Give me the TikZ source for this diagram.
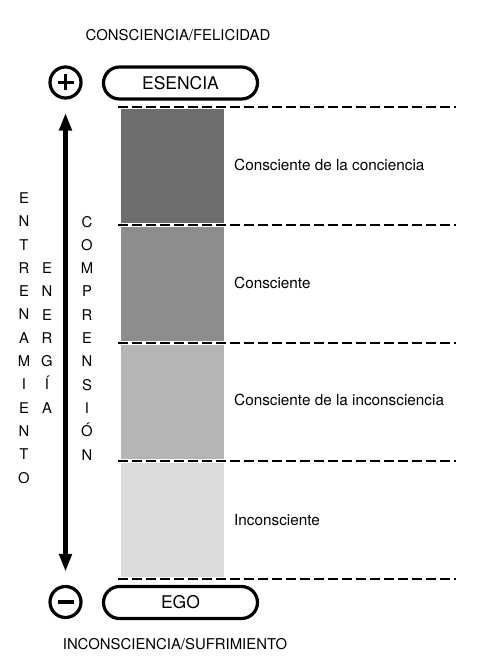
\documentclass[tikz,border=0pt]{standalone}
\usepackage{fontspec}
\setmainfont{TeX Gyre Heros}
\usetikzlibrary{arrows.meta}
\definecolor{bandA}{HTML}{6E6E6E}
\definecolor{bandB}{HTML}{8D8D8D}
\definecolor{bandC}{HTML}{B5B5B5}
\definecolor{bandD}{HTML}{DBDBDB}
\tikzset{
  signcirc/.style={circle, draw, line width=3.2pt, minimum size=31pt, inner sep=0pt},
  signbar/.style={line width=3.2pt},
  pillbox/.style={draw, line width=3.2pt, rounded corners=16pt, minimum width=154pt, minimum height=32pt, inner sep=0pt, font=\fontsize{17.5}{20}\selectfont},
  band/.style={draw=none, minimum width=103pt, minimum height=114pt, inner sep=0pt},
  sep/.style={line width=1.1pt, dash pattern=on 10pt off 4pt},
  lbl/.style={anchor=west, inner sep=0pt, font=\fontsize{15.3}{18}\selectfont},
  titletext/.style={inner sep=0pt, font=\fontsize{14.9}{17}\selectfont},
  vword/.style={align=center, inner sep=0pt, font=\fontsize{14.8}{23.3}\selectfont},
}
\begin{document}
\begin{tikzpicture}[x=1pt,y=-1pt]
\useasboundingbox (0,0) rectangle (483,671);
% titles
\node[titletext] (top) at (178,35) {CONSCIENCIA/FELICIDAD};
\node[titletext] (bot) at (175,644) {INCONSCIENCIA/SUFRIMIENTO};
% sign circles
\node[signcirc] (plus) at (65.5,82.5) {};
\draw[signbar] ([xshift=-8pt]plus.center) -- ([xshift=8pt]plus.center);
\draw[signbar] ([yshift=-8pt]plus.center) -- ([yshift=8pt]plus.center);
\node[signcirc] (minus) at (65.5,602) {};
\draw[signbar] ([xshift=-8pt]minus.center) -- ([xshift=8pt]minus.center);
% pill boxes
\node[pillbox] (esencia) at (180.5,83) {ESENCIA};
\node[pillbox] (ego) at (180.5,602.5) {EGO};
% arrow
\draw[line width=4.5pt, {Triangle[length=18pt,width=12pt]}-{Triangle[length=18pt,width=12pt]}]
  ([yshift=-13pt]plus.south) -- ([yshift=13pt]minus.north);
% bands
\node[band, fill=bandA] (b1) at (172.5,166) {};
\node[band, fill=bandB] (b2) at (172.5,284) {};
\node[band, fill=bandC] (b3) at (172.5,402) {};
\node[band, fill=bandD] (b4) at (172.5,520) {};
% dashed separators
\coordinate (s1a) at (118,107); \coordinate (s1b) at (456,107);
\coordinate (s2a) at (118,225); \coordinate (s2b) at (456,225);
\coordinate (s3a) at (118,343); \coordinate (s3b) at (456,343);
\coordinate (s4a) at (118,461); \coordinate (s4b) at (456,461);
\coordinate (s5a) at (118,579); \coordinate (s5b) at (456,579);
\draw[sep] (s1a) -- (s1b);
\draw[sep] (s2a) -- (s2b);
\draw[sep] (s3a) -- (s3b);
\draw[sep] (s4a) -- (s4b);
\draw[sep] (s5a) -- (s5b);
% labels
\node[lbl] (l1) at (234,165) {Consciente de la conciencia};
\node[lbl] (l2) at (234,283) {Consciente};
\node[lbl] (l3) at (234,400) {Consciente de la inconsciencia};
\node[lbl] (l4) at (234,520) {Inconsciente};
% vertical words
\node[vword] (w1) at (24,338) {E\\N\\T\\R\\E\\N\\A\\M\\I\\E\\N\\T\\O};
\node[vword] (w2) at (47,338) {E\\N\\E\\R\\G\\Í\\A};
\node[vword] (w3) at (87,338) {C\\O\\M\\P\\R\\E\\N\\S\\I\\Ó\\N};
\end{tikzpicture}
\end{document}
